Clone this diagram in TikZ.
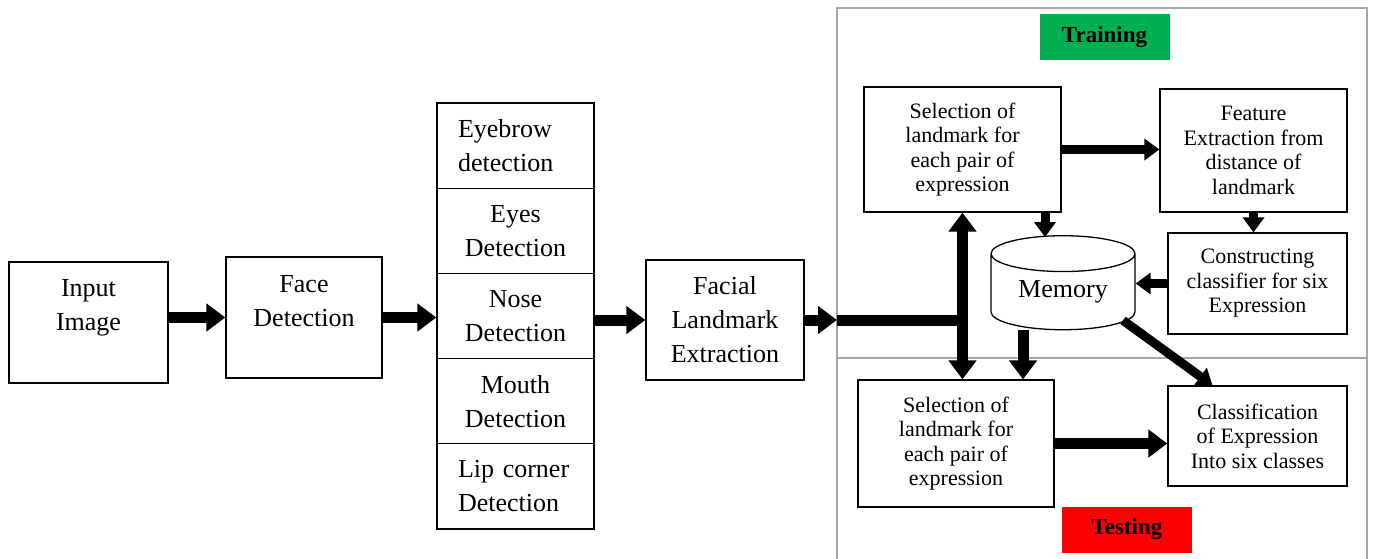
\documentclass[tikz,border=0pt]{standalone}
\usepackage{fontspec}
\setmainfont{Liberation Serif}
\usetikzlibrary{arrows.meta,shapes.geometric}
\tikzset{every picture/.style = {x=1pt, y=-1pt}}
\tikzset{txt/.style = {align=center, inner sep=0pt, font=\fontsize{26}{34}\selectfont}}
\tikzset{box/.style = {txt, draw, line width=1.3pt}}
\tikzset{cell/.style = {box, minimum width=157, minimum height=85.2}}
\tikzset{sbox/.style = {box, font=\fontsize{22}{24.5}\selectfont}}
\tikzset{tag/.style = {minimum width=130, minimum height=46, inner sep=0pt,
  font=\fontsize{23}{26}\selectfont\bfseries}}
\tikzset{memo/.style = {cylinder, shape border rotate=90, aspect=0.4, draw,
  line width=1.3pt, minimum width=144, minimum height=94, inner sep=0pt,
  font=\fontsize{26}{30}\selectfont}}
\tikzset{flow/.style = {line width=11pt, -{Triangle[width=27pt, length=19pt]}}}
\tikzset{sflow/.style = {line width=9pt, -{Triangle[width=21pt, length=15pt]}}}
\tikzset{frame/.style = {draw=black!35, line width=1.5pt}}

\begin{document}
\begin{tikzpicture}
  \useasboundingbox (0,0) rectangle (1373,558);
  \draw[frame] (837,570) |- (1367,8) -- (1367,570);
  \draw[frame] (837,358) -- (1367,358);
  \coordinate (edge) at (837,0);

  \node[box, minimum width=159, minimum height=121,
    label={[txt, yshift=14.5]center:Input\\Image}] (inp) at (88.5,322.5) {};
  \node[box, minimum width=156, minimum height=121,
    label={[txt, yshift=16]center:Face\\Detection}] (face) at (304,317.5) {};
  \node[cell, text width=115, align=left] (brow) at (515.5,145.6) {Eyebrow\\detection};
  \node[cell] (eyes) at (515.5,230.8) {Eyes\\Detection};
  \node[cell] (nose) at (515.5,316) {Nose\\Detection};
  \node[cell] (mouth) at (515.5,401.2) {Mouth\\Detection};
  \node[cell, text width=115, align=left] (lip) at (515.5,486.4) {Lip corner\\Detection};
  \node[box, minimum width=158, minimum height=120] (fle) at (725,320)
    {Facial\\Landmark\\Extraction};

  \node[tag, fill={rgb,255:red,0;green,176;blue,80}] (train) at (1104.5,37) {Training};
  \node[sbox, minimum width=197, minimum height=125] (sel1) at (962.5,149.5)
    {Selection of\\landmark for\\each pair of\\expression};
  \node[sbox, minimum width=187, minimum height=123] (feat) at (1253.5,150.5)
    {Feature\\Extraction from\\distance of\\landmark};
  \node[sbox, minimum width=179, minimum height=101] (cons) at (1257.5,283.5)
    {Constructing\\classifier for six\\Expression};
  \node[memo] (mem) at (1063,292) {Memory};
  \node[sbox, minimum width=196, minimum height=127] (sel2) at (956,443.5)
    {Selection of\\landmark for\\each pair of\\expression};
  \node[sbox, minimum width=179, minimum height=100] (cls) at (1257.5,436)
    {Classification\\of Expression\\Into six classes};
  \node[tag, fill=red] (test) at (1127,529.5) {Testing};

  \draw[flow] (inp.east |- face.west) -- (face.west);
  \draw[flow] (face.east) -- (face.east -| nose.west);
  \draw[flow] (nose.east |- fle.west) -- (fle.west);
  \draw[flow] (fle.east) -- (fle.east -| edge);
  \coordinate (j) at (fle.east -| sel1.south);
  \draw[line width=11pt] (fle.east -| edge) -- (j);
  \draw[flow] (j) -- (sel1.south);
  \draw[flow] (j) -- (j |- sel2.north);

  \coordinate (mt) at ([xshift=-18pt, yshift=-2pt]mem.north);
  \coordinate (mb) at ([xshift=-40pt]mem.south);
  \coordinate (md) at ([xshift=60pt, yshift=10pt]mem.south);
  \draw[sflow] (sel1.east) -- (sel1.east -| feat.west);
  \draw[sflow] (mt |- sel1.south) -- (mt);
  \draw[sflow] (feat.south) -- (feat.south |- cons.north);
  \draw[sflow] (cons.west) -- (cons.west -| mem.east);
  \draw[flow] (mb) -- (mb |- sel2.north);
  \draw[sflow] (md) -- ([xshift=-45pt]cls.north);
  \draw[flow] (sel2.east) -- (sel2.east -| cls.west);
\end{tikzpicture}
\end{document}
